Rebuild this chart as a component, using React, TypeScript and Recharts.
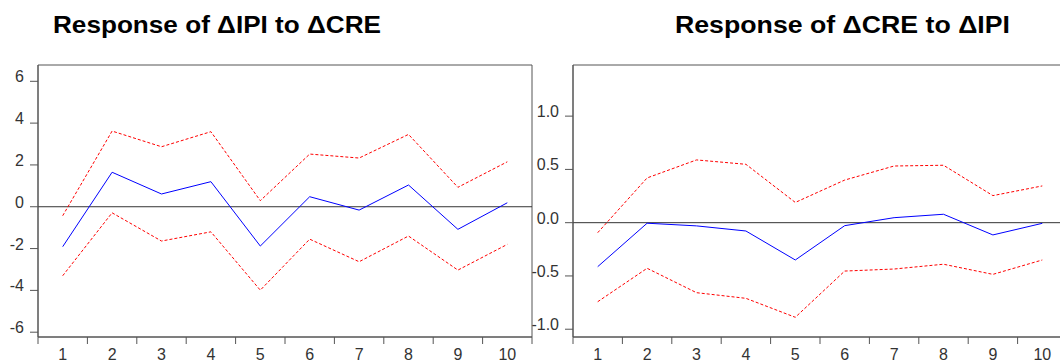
import React from 'react';
import { LineChart, Line, XAxis, YAxis, ReferenceLine, ReferenceArea } from 'recharts';

const steps = [1, 2, 3, 4, 5, 6, 7, 8, 9, 10];

// Response of ΔIPI to ΔCRE
const ipiResp = [-1.91, 1.65, 0.61, 1.2, -1.88, 0.48, -0.16, 1.04, -1.08, 0.19];
const ipiUpper = [-0.43, 3.62, 2.87, 3.59, 0.29, 2.52, 2.33, 3.46, 0.93, 2.15];
const ipiLower = [-3.3, -0.29, -1.64, -1.2, -3.99, -1.55, -2.63, -1.4, -3.03, -1.8];

// Response of ΔCRE to ΔIPI
const creResp = [-0.413, -0.005, -0.03, -0.078, -0.35, -0.028, 0.047, 0.079, -0.115, -0.006];
const creUpper = [-0.094, 0.42, 0.589, 0.548, 0.19, 0.4, 0.532, 0.539, 0.254, 0.345];
const creLower = [-0.742, -0.428, -0.657, -0.71, -0.888, -0.454, -0.435, -0.39, -0.485, -0.35];

const leftTicks = [-6, -4, -2, 0, 2, 4, 6];
const rightTicks = [-1.0, -0.5, 0.0, 0.5, 1.0];
const xTicks = [0.5, 1, 1.5, 2, 2.5, 3, 3.5, 4, 4.5, 5, 5.5, 6, 6.5, 7, 7.5, 8, 8.5, 9, 9.5, 10, 10.5];

const titles = ['Response of \u0394IPI to \u0394CRE', 'Response of \u0394CRE to \u0394IPI'];

const leftData = steps.map((s, i) => ({ step: s, resp: ipiResp[i], up: ipiUpper[i], lo: ipiLower[i] }));
const rightData = steps.map((s, i) => ({ step: s, resp: creResp[i], up: creUpper[i], lo: creLower[i] }));

const FONT = 'Arial, "Liberation Sans", sans-serif';
const FRAME = '#555';
const TEXT = '#333';

const XTick = (props: any) => {
  const { x, y, payload } = props;
  const v = payload.value;
  if (Math.abs(v - Math.round(v)) > 0.01) {
    return <line x1={x} x2={x} y1={y} y2={y + 7} stroke={FRAME} strokeWidth={1} />;
  }
  return (
    <text x={x} y={y + 23} textAnchor="middle" fontSize={16} fontFamily={FONT} fill={TEXT}>
      {String(v)}
    </text>
  );
};

const makeYTick = (fmt: (v: number) => string) => (props: any) => {
  const { x, y, payload } = props;
  return (
    <g>
      <line x1={x - 8} x2={x} y1={y} y2={y} stroke={FRAME} strokeWidth={1} />
      <text x={x - 14} y={y + 1} textAnchor="end" fontSize={16} fontFamily={FONT} fill={TEXT}>
        {fmt(payload.value)}
      </text>
    </g>
  );
};

const LeftYTick = makeYTick((v) => String(v));
const RightYTick = makeYTick((v) => v.toFixed(1));

function Panel({ data, width, yWidth, domain, ticks, tickComp, marginRight }: any) {
  return (
    <LineChart width={width} height={361} data={data} margin={{ top: 65, right: marginRight, bottom: 0, left: 0 }}>
      <XAxis
        dataKey="step"
        type="number"
        domain={[0.5, 10.5]}
        ticks={xTicks}
        interval={0}
        allowDataOverflow
        height={24}
        tickSize={0}
        tickMargin={0}
        tickLine={false}
        tick={<XTick />}
        axisLine={{ stroke: FRAME }}
      />
      <YAxis
        type="number"
        domain={domain}
        ticks={ticks}
        interval={0}
        allowDataOverflow
        width={yWidth}
        tickSize={0}
        tickMargin={0}
        tickLine={false}
        tick={tickComp}
        axisLine={{ stroke: FRAME }}
      />
      <ReferenceArea
        x1={0.5}
        x2={10.5}
        y1={domain[0]}
        y2={domain[1]}
        fill="none"
        fillOpacity={0}
        stroke={FRAME}
        strokeWidth={1}
        ifOverflow="visible"
      />
      <ReferenceLine y={0} stroke="#333" strokeWidth={1} />
      <Line dataKey="up" stroke="#ff0000" strokeWidth={1} strokeDasharray="3 2" dot={false} isAnimationActive={false} />
      <Line dataKey="lo" stroke="#ff0000" strokeWidth={1} strokeDasharray="3 2" dot={false} isAnimationActive={false} />
      <Line dataKey="resp" stroke="#0000ff" strokeWidth={1} dot={false} isAnimationActive={false} />
    </LineChart>
  );
}

export default function App() {
  return (
    <div style={{ position: 'absolute', left: 0, top: 0, width: 1060, height: 361, overflow: 'hidden', background: '#fff' }}>
      <div style={{ position: 'absolute', left: 528, top: 0, zIndex: 1 }}>
        <Panel data={rightData} width={544} yWidth={45} domain={[-1.073, 1.48]} ticks={rightTicks} tickComp={<RightYTick />} marginRight={5} />
      </div>
      <div style={{ position: 'absolute', left: 0, top: 0, zIndex: 2 }}>
        <Panel data={leftData} width={540} yWidth={38} domain={[-6.23, 6.78]} ticks={leftTicks} tickComp={<LeftYTick />} marginRight={8} />
      </div>
      <svg width={1060} height={50} style={{ position: 'absolute', left: 0, top: 0, zIndex: 3 }}>
        <text x={53} y={33} fontSize={24} fontWeight="bold" fontFamily={FONT} fill="#000" textLength={328} lengthAdjust="spacingAndGlyphs">
          {titles[0]}
        </text>
        <text x={675} y={33} fontSize={24} fontWeight="bold" fontFamily={FONT} fill="#000" textLength={335} lengthAdjust="spacingAndGlyphs">
          {titles[1]}
        </text>
      </svg>
    </div>
  );
}
